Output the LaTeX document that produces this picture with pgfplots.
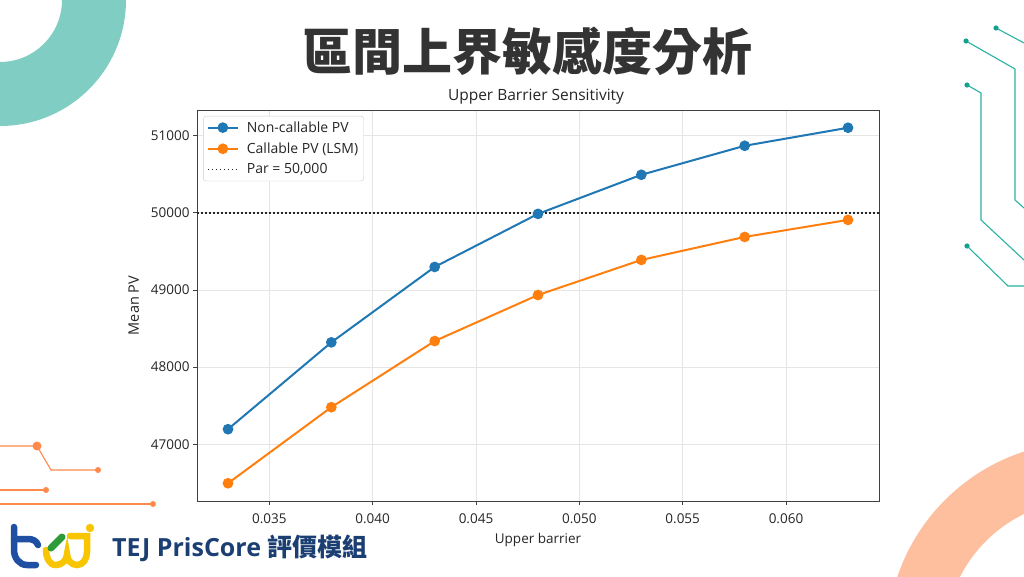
\documentclass[border=0pt]{standalone}
\usepackage{pgfplots}
\pgfplotsset{compat=1.18}
\usepackage{fontspec}
\setmainfont{Open Sans}
\newfontfamily\cjk{Noto Sans CJK TC}
\definecolor{c1}{HTML}{1F77B4}
\definecolor{c2}{HTML}{FF7F0E}
\definecolor{tealring}{HTML}{80CDC4}
\definecolor{peach}{HTML}{FDBF9D}
\definecolor{circ}{HTML}{2BB3A3}
\definecolor{circdot}{HTML}{16A08E}
\definecolor{orl}{HTML}{FF8A4C}
\definecolor{navy}{HTML}{1B3F73}
\definecolor{tejblue}{HTML}{1E4FA3}
\definecolor{tejgreen}{HTML}{2E9B3A}
\definecolor{tejyellow}{HTML}{F7C600}
\definecolor{ttl}{HTML}{333333}
\begin{document}
\begin{tikzpicture}[x=1pt,y=1pt]
\clip (0,0) rectangle (1024,576);
\fill[white] (0,0) rectangle (1024,576);
% decorations
\fill[tealring, even odd rule] (0,576) circle (126) (0,576) circle (62);
\fill[peach, even odd rule] (1085,-64) circle (198) (1085,-64) circle (140);
\begin{scope}[circ, line width=1.1pt]
\draw (996,548) -- (1024,533);
\draw (966,535) -- (1015,507) -- (1015,376) -- (1024,368);
\draw (967,491) -- (981,483) -- (981,356) -- (1024,316);
\draw (967,330) -- (1008,290) -- (1024,290);
\fill[circdot] (996,548) circle (2.6) (966,535) circle (2.6) (967,491) circle (2.6) (967,330) circle (2.6);
\end{scope}
\begin{scope}[orl, line width=1.1pt]
\draw (0,130) -- (37,130) -- (51,106) -- (98,106);
\draw (0,86) -- (46,86);
\draw (0,72) -- (153,72);
\fill (37,130) circle (4.5) (98,106) circle (3) (46,86) circle (3) (153,72) circle (3);
\end{scope}
% logo
\begin{scope}[line cap=round, line width=6.5pt]
\draw[tejyellow] (46,26) to[out=-90,in=180] (56,11) to[out=0,in=-90] (67,22) to[out=-90,in=180] (77,11) to[out=0,in=-90] (87,24) -- (87,40) -- (70,40);
\fill[tejyellow] (90,48) circle (4.2);
\draw[tejblue] (14,49) -- (14,26) to[out=-90,in=180] (27,11) -- (36,11);
\draw[tejblue] (14,37) -- (28,37) to[out=0,in=110] (38,31);
\draw[tejgreen, line width=7pt] (51,28) -- (62,39);
\end{scope}
\node[anchor=west, text=navy, inner sep=0pt] at (112,28) {\fontsize{25}{29}\selectfont\bfseries TEJ PrisCore {\cjk\bfseries 評價模組}};
% title
\node[text=ttl, inner sep=0pt] at (527,525) {\fontsize{50}{56}\selectfont\cjk\bfseries 區間上界敏感度分析};
\node[text=black!85, inner sep=0pt] at (536,479) {\fontsize{15.5}{18}\selectfont Upper Barrier Sensitivity};
\begin{axis}[
  at={(197pt,75pt)}, anchor=south west, scale only axis,
  width=682pt, height=391pt,
  xmin=0.0315, xmax=0.0645, ymin=46264, ymax=51334,
  scaled ticks=false,
  xtick={0.035,0.040,0.045,0.050,0.055,0.060},
  xticklabels={0.035,0.040,0.045,0.050,0.055,0.060},
  ytick={47000,48000,49000,50000,51000},
  yticklabels={47000,48000,49000,50000,51000},
  tick align=outside, tick pos=left, major tick length=4pt,
  grid=major, major grid style={color=black!10, line width=0.8pt},
  axis line style={black!75, line width=0.9pt},
  tick style={black!75, line width=0.9pt},
  ticklabel style={font=\fontsize{13.5}{15}\selectfont, text=black!85},
  xticklabel style={yshift=-5pt},
  xlabel={Upper barrier}, ylabel={Mean PV},
  label style={font=\fontsize{13.5}{15}\selectfont, text=black!85},
  xlabel style={yshift=-3pt},
  ylabel style={yshift=5pt, font=\fontsize{14.5}{16}\selectfont},
  legend style={at={(rel axis cs:0.009,0.985)}, anchor=north west, draw=black!20, rounded corners=3pt, font=\fontsize{14}{16}\selectfont, row sep=5pt, inner sep=3.5pt, text=black!85},
  legend cell align=left,
  legend image code/.code={\draw[mark repeat=2,mark phase=2,#1] plot coordinates {(0pt,0pt) (15pt,0pt) (30pt,0pt)};\path (36pt,0pt);},
]
\addplot[c1, line width=2pt, mark=*, mark size=4.3pt, mark options={solid, fill=c1, draw=c1}] coordinates {
(0.033,47195) (0.038,48321) (0.043,49299) (0.048,49987) (0.053,50494) (0.058,50870) (0.063,51104)};
\addlegendentry{Non-callable PV}
\addplot[c2, line width=2pt, mark=*, mark size=4.3pt, mark options={solid, fill=c2, draw=c2}] coordinates {
(0.033,46494) (0.038,47480) (0.043,48338) (0.048,48935) (0.053,49390) (0.058,49688) (0.063,49909)};
\addlegendentry{Callable PV (LSM)}
\addplot[black!85, line width=1.5pt, dash pattern=on 1.5pt off 2.5pt] coordinates {(0.0315,50000) (0.0645,50000)};
\addlegendentry{Par = 50,000}
\end{axis}
\end{tikzpicture}
\end{document}
